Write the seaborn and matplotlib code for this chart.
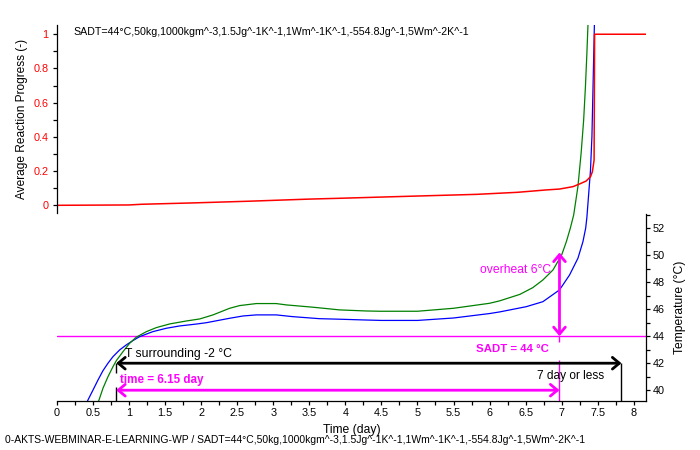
import numpy as np
import pandas as pd
import matplotlib
matplotlib.use("Agg")
import matplotlib.pyplot as plt
from matplotlib.patches import FancyArrowPatch
from matplotlib.ticker import FixedLocator, MultipleLocator
import seaborn as sns

# ---------------- data ----------------
blue_days = [0.38, 0.43, 0.50, 0.569, 0.638, 0.707, 0.777, 0.87, 0.962, 1.054, 1.147, 1.33, 1.517, 1.70,
             1.93, 2.07, 2.395, 2.58, 2.766, 3.04, 3.27, 3.64, 3.92, 4.29, 4.5, 5.0, 5.5, 6.0, 6.14, 6.51,
             6.74, 6.97, 7.11, 7.226, 7.295, 7.333, 7.35, 7.40, 7.42, 7.434, 7.454, 7.46]
blue_temp = [38.7, 39.28, 40.02, 40.76, 41.45, 42.0, 42.49, 42.99, 43.36, 43.68, 43.97, 44.34, 44.59, 44.76,
             44.9, 45.0, 45.33, 45.5, 45.58, 45.58, 45.45, 45.3, 45.26, 45.2, 45.17, 45.17, 45.35, 45.68, 45.8, 46.19,
             46.56, 47.43, 48.54, 49.78, 51.0, 52.0, 52.8, 56.3, 58.8, 62.2, 67.06, 68.0]

green_days = [0.52, 0.583, 0.638, 0.707, 0.777, 0.824, 0.916, 1.008, 1.10, 1.24, 1.379, 1.563, 1.795, 1.98,
              2.164, 2.395, 2.534, 2.766, 3.04, 3.18, 3.55, 3.92, 4.29, 4.48, 5.0, 5.5, 6.0, 6.14, 6.42, 6.60,
              6.74, 6.88, 7.0, 7.065, 7.12, 7.167, 7.226, 7.27, 7.305, 7.33, 7.35, 7.365, 7.37]
green_temp = [38.5, 39.28, 40.15, 41.0, 41.75, 42.2, 42.86, 43.48, 43.93, 44.34, 44.64, 44.91, 45.13, 45.28,
              45.58, 46.07, 46.27, 46.42, 46.42, 46.32, 46.15, 45.95, 45.87, 45.85, 45.85, 46.07, 46.44, 46.62, 47.1, 47.6,
              48.17, 48.91, 50.02, 51.0, 52.0, 52.99, 55.1, 57.56, 60.0, 62.5, 64.96, 67.06, 68.0]

red_days = [0.0, 1.0, 1.17, 1.89, 2.67, 3.48, 4.0, 4.98, 5.82, 6.39, 6.79, 6.97, 7.157, 7.25, 7.34, 7.40,
            7.426, 7.45, 7.457, 8.17]
red_prog = [0.0, 0.002, 0.006, 0.014, 0.024, 0.036, 0.042, 0.054, 0.064, 0.076, 0.09, 0.095, 0.109, 0.125,
            0.142, 0.167, 0.196, 0.265, 1.0, 1.0]

x_ticks = [0, 0.5, 1, 1.5, 2, 2.5, 3, 3.5, 4, 4.5, 5, 5.5, 6, 6.5, 7, 7.5, 8]
x_tick_labels = ["0", "0.5", "1", "1.5", "2", "2.5", "3", "3.5", "4", "4.5", "5", "5.5", "6", "6.5", "7", "7.5", "8"]
temp_ticks = [40, 42, 44, 46, 48, 50, 52]
prog_ticks = [0, 0.2, 0.4, 0.6, 0.8, 1.0]
prog_tick_labels = ["0", "0.2", "0.4", "0.6", "0.8", "1"]

# annotation values
T_SADT = 44
T_SURR_ARROW = 42
T_TIME_ARROW = 40
T_OVERHEAT_TOP = 50.2
t_start = 0.82
t_end = 6.97
t_limit = 7.83

title_text = "SADT=44°C,50kg,1000kgm^-3,1.5Jg^-1K^-1,1Wm^-1K^-1,-554.8Jg^-1,5Wm^-2K^-1"
footer_text = "0-AKTS-WEBMINAR-E-LEARNING-WP / SADT=44°C,50kg,1000kgm^-3,1.5Jg^-1K^-1,1Wm^-1K^-1,-554.8Jg^-1,5Wm^-2K^-1"

# ---------------- style ----------------
sns.set_theme(style="white")
plt.rcParams['font.family'] = ['Liberation Sans', 'DejaVu Sans']
plt.rcParams['axes.linewidth'] = 0.9

MAG = "#FF00FF"
W, H = 700, 450
fig = plt.figure(figsize=(7, 4.5), dpi=100)
fig.patch.set_facecolor("white")

XMIN, XMAX = 0, 8.17
L, R = 57, 646
main_bot, main_top = 401, 25
top_bot = 213

ax = fig.add_axes([L / W, 1 - main_bot / H, (R - L) / W, (main_bot - main_top) / H])
ax_top = fig.add_axes([L / W, 1 - top_bot / H, (R - L) / W, (top_bot - main_top) / H])

# --- temperature (main) axis ---
df_b = pd.DataFrame({"day": blue_days, "T": blue_temp})
df_g = pd.DataFrame({"day": green_days, "T": green_temp})
sns.lineplot(data=df_b, x="day", y="T", ax=ax, color="#0000FF", lw=0.9, sort=False, estimator=None)
sns.lineplot(data=df_g, x="day", y="T", ax=ax, color="#008000", lw=0.9, sort=False, estimator=None)

ax.set_xlim(XMIN, XMAX)
ax.set_ylim(39.2, 67.06)
ax.axhline(T_SADT, color=MAG, lw=1.0, zorder=1)

for s in ["left", "top"]:
    ax.spines[s].set_visible(False)
ax.spines["right"].set_bounds(39.2, 53.06)
for s in ["right", "bottom"]:
    ax.spines[s].set_color("black")
    ax.spines[s].set_linewidth(0.9)

ax.yaxis.tick_right()
ax.yaxis.set_major_locator(FixedLocator(temp_ticks))
ax.yaxis.set_minor_locator(FixedLocator([41, 43, 45, 47, 49, 51, 53]))
ax.set_yticklabels([str(t) for t in temp_ticks])
ax.set_xticks(x_ticks)
ax.set_xticklabels(x_tick_labels)
ax.xaxis.set_minor_locator(MultipleLocator(0.25))
ax.tick_params(axis="both", which="both", direction="out", length=3, width=0.9, color="black",
               labelsize=7.8, labelcolor="black")
ax.tick_params(axis="x", which="both", bottom=True, top=False, pad=2)
ax.tick_params(axis="y", which="both", right=True, left=False, pad=2)

ax.set_xlabel("Time (day)", fontsize=8.7, color="black")
ax.xaxis.set_label_coords(0.5, -(430 - main_bot) / (main_bot - main_top), transform=ax.transAxes)
ax.xaxis.label.set_va("center")
ax.yaxis.set_label_position("right")
ax.set_ylabel("Temperature (°C)", fontsize=8.7, color="black")
ax.yaxis.set_label_coords((680 - L) / (R - L), (main_bot - 307.5) / (main_bot - main_top))
ax.yaxis.label.set_va("center")
ax.grid(False)

# annotations
def arrow(ax_, p0, p1, color, lw):
    a = FancyArrowPatch(p0, p1, arrowstyle="<->,head_length=0.5,head_width=0.42",
                        mutation_scale=10, color=color, lw=lw, shrinkA=0, shrinkB=0, zorder=4)
    ax_.add_patch(a)

arrow(ax, (t_start, T_SURR_ARROW), (t_limit, T_SURR_ARROW), "black", 2.0)
arrow(ax, (t_start, T_TIME_ARROW), (t_end, T_TIME_ARROW), MAG, 2.0)
arrow(ax, (t_end, T_SADT), (t_end, T_OVERHEAT_TOP), MAG, 2.0)

ax.vlines(t_start, 39.2, 40.26, color="black", lw=1.0)
ax.vlines(t_start, 41.28, T_SURR_ARROW, color="black", lw=1.0)
ax.vlines(t_limit, 39.2, T_SURR_ARROW, color="black", lw=1.0)
ax.vlines(t_end, 39.2, 42.25, color=MAG, lw=1.0)
ax.vlines(t_end, 43.6, T_SADT, color=MAG, lw=1.0)

ax.text(0.95, 42.69, "T surrounding -2 °C", fontsize=8.8, color="black", ha="left", va="center")
ax.text(0.87, 40.76, "time = 6.15 day", fontsize=8.4, color=MAG, fontweight="bold", ha="left", va="center")
ax.text(6.86, 48.91, "overheat 6°C", fontsize=8.7, color=MAG, ha="right", va="center")
ax.text(6.82, 43.04, "SADT = 44 °C", fontsize=8.2, color=MAG, fontweight="bold", ha="right", va="center")
ax.text(7.12, 41.08, "7 day or less", fontsize=8.6, color="black", ha="center", va="center")

# --- reaction progress (top) axis ---
ax_top.patch.set_alpha(0)
df_r = pd.DataFrame({"day": red_days, "p": red_prog})
sns.lineplot(data=df_r, x="day", y="p", ax=ax_top, color="#FF0000", lw=1.1, sort=False, estimator=None)
ax_top.set_xlim(XMIN, XMAX)
ax_top.set_ylim(-0.045, 1.054)
for s in ["right", "top", "bottom"]:
    ax_top.spines[s].set_visible(False)
ax_top.spines["left"].set_color("black")
ax_top.spines["left"].set_linewidth(0.9)
ax_top.set_xticks([])
ax_top.set_xlabel("")
ax_top.set_yticks(prog_ticks)
ax_top.set_yticklabels(prog_tick_labels)
ax_top.yaxis.set_minor_locator(MultipleLocator(0.1))
ax_top.tick_params(axis="y", which="both", direction="out", length=3, width=0.9, color="black",
                   labelsize=7.8, labelcolor="#FF0000", left=True, pad=3)
ax_top.set_ylabel("Average Reaction Progress (-)", fontsize=8.6, color="black")
ax_top.yaxis.set_label_coords((21.7 - L) / (R - L), 0.5)
ax_top.yaxis.label.set_va("center")
ax_top.grid(False)

fig.text(73 / W, 1 - 32 / H, title_text, fontsize=7.7, color="black", ha="left", va="center")
fig.text(5 / W, 1 - 440 / H, footer_text, fontsize=7.5, color="black", ha="left", va="center")

fig.savefig("out.png", dpi=100, facecolor="white")
